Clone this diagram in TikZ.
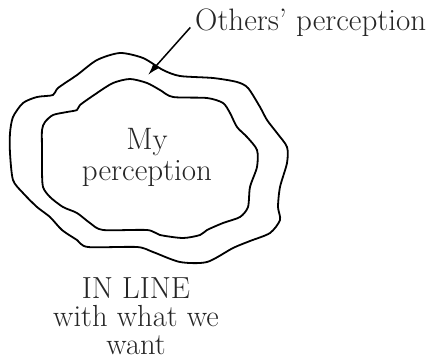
\documentclass[tikz,border=0pt]{standalone}
\usetikzlibrary{arrows.meta}
\begin{document}
\begin{tikzpicture}[x=1pt,y=-1pt,
  blob/.style={line width=1.8pt, line join=round},
  lbl/.style={inner sep=0pt, align=center, text=black!85},
  pointer/.style={line width=1.5pt, -{Latex[length=12pt,width=7pt]}}]
\useasboundingbox (0,0) rectangle (433,362);
% outer contour
\draw[blob] plot[smooth cycle, tension=0.45] coordinates {
 (53,95) (58,88) (77,75) (97,60) (120,53) (143,58) (163,70) (180,76)
 (213,78) (237,82) (248,88) (260,107) (267,120) (277,133) (287,147)
 (287,163) (280,187) (278,207) (280,220) (270,233) (250,241) (233,248)
 (207,262) (180,262) (153,252) (137,247) (88,247) (77,240) (62,230)
 (50,217) (37,207) (23,193) (13,180) (10,153) (10,133) (13,117)
 (23,103) (37,97)};
% inner contour
\draw[blob] plot[smooth cycle, tension=0.45] coordinates {
 (77,110) (80,105) (97,93) (113,83) (130,79) (147,83) (160,90) (173,97)
 (207,98) (223,103) (230,113) (237,127) (247,137) (257,150) (257,167)
 (250,187) (248,207) (240,217) (223,223) (207,230) (200,235) (183,238)
 (160,235) (147,230) (103,230) (90,223) (77,213) (63,207) (50,197)
 (43,187) (42,170) (42,150) (42,130) (45,122) (53,115) (67,112)};
% labels
\node[lbl, anchor=base west, font=\fontsize{31}{34}\selectfont] (others) at (195,30) {Others' perception};
\node[lbl, font=\fontsize{31}{31}\selectfont] (mine) at (147,157) {My\\perception};
\node[lbl, font=\fontsize{30.5}{28}\selectfont] (inline) at (136,316) {IN LINE\\with what we\\want};
\coordinate (tip) at (148,75);
\draw[pointer, shorten <=7pt] (others.west) -- (tip);
\end{tikzpicture}
\end{document}
